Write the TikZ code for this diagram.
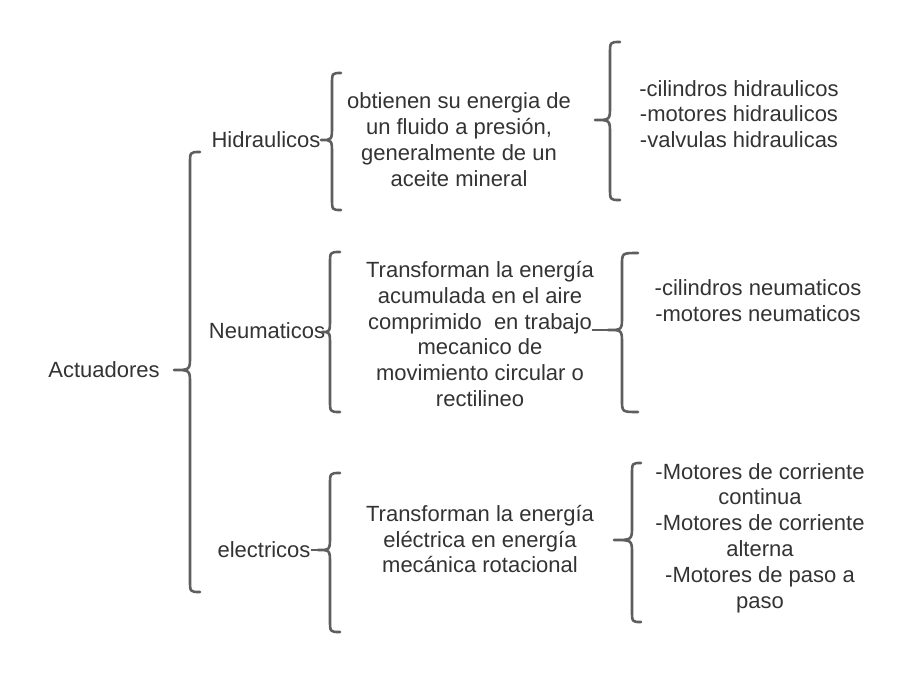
\documentclass[tikz,border=0pt]{standalone}
\usepackage{fontspec}
\setmainfont{Liberation Sans}
\definecolor{txt}{HTML}{333333}
\definecolor{brc}{HTML}{5E5E5E}
\newcommand{\cbr}[7]{%
  \draw[bracestyle] (#6,#2) .. controls (#1,#2) .. (#1,#2+12) -- (#1,#5-14)
    .. controls (#1,#5) .. (#4,#5) .. controls (#1,#5) .. (#1,#5+14)
    -- (#1,#3-12) .. controls (#1,#3) .. (#6,#3);
  \coordinate (#7) at (#4,#5);}
\begin{document}
\begin{tikzpicture}[x=1pt,y=-1pt,
  bracestyle/.style={draw=brc,line width=2.6pt,line cap=round,line join=round},
  conn/.style={draw=brc,line width=2.2pt},
  lbl/.style={text=txt,font={\fontsize{22}{25.8}\selectfont},align=center,inner sep=0pt}]
\useasboundingbox (0,0) rectangle (920,672);
% nodes
\node[lbl] (act) at (104,370) {Actuadores};
\node[lbl] (hid) at (266,140) {Hidraulicos};
\node[lbl] (neu) at (267,331) {Neumaticos};
\node[lbl] (ele) at (264,550) {electricos};
\node[lbl] (hdesc) at (459,139.5) {obtienen su energia de\\un fluido a presión,\\generalmente de un\\aceite mineral};
\node[lbl] (ndesc) at (480,334) {Transforman la energía\\acumulada en el aire\\comprimido\ \ en trabajo\\mecanico de\\movimiento circular o\\rectilineo};
\node[lbl] (edesc) at (480,539) {Transforman la energía\\eléctrica en energía\\mecánica rotacional};
\node[lbl] (hlist) at (739,114) {-cilindros hidraulicos\\-motores hidraulicos\\-valvulas hidraulicas};
\node[lbl] (nlist) at (758,300.5) {-cilindros neumaticos\\-motores neumaticos};
\node[lbl] (elist) at (760,538) {-Motores de corriente\\continua\\-Motores de corriente\\alterna\\-Motores de paso a\\paso};
% braces
\cbr{190}{152}{592}{174}{370}{200}{tipA}
\cbr{332}{73}{210}{321}{140}{341}{tipHL}
\cbr{330}{252}{412}{322}{332}{340}{tipNL}
\cbr{330}{473}{632}{318}{550}{340}{tipEL}
\cbr{610}{42}{200}{595}{120}{620}{tipHR}
\cbr{622}{253}{412}{608}{330}{638}{tipNR}
\cbr{632}{463}{622}{614}{540}{641}{tipER}
% connectors
\coordinate (nfree) at (592,330);
\draw[conn] (ele.east) -- (tipEL);
\draw[conn] (nfree) -- (tipNR);
\end{tikzpicture}
\end{document}
